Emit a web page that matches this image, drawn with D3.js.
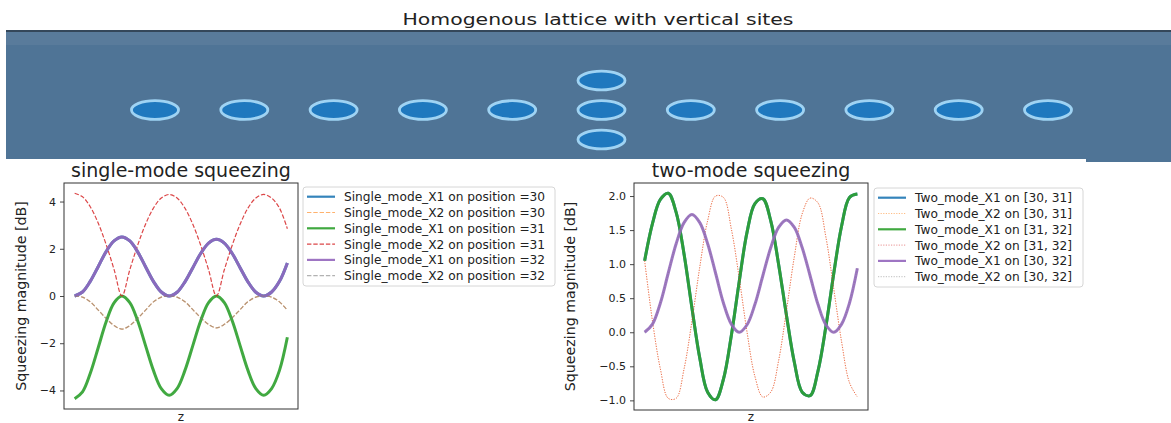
<!DOCTYPE html>
<html>
<head>
<meta charset="utf-8">
<script src="https://cdn.jsdelivr.net/npm/d3@7"></script>
<style>
  body { margin: 0; background: #fff; }
  svg text { font-family: "DejaVu Sans", sans-serif; fill: #222; }
</style>
</head>
<body>
<div id="chart"></div>
<script>
// ---- data ----
const mainTitle = "Homogenous lattice with vertical sites";
// lattice sites: horizontal chain + two vertical sites around the middle one
const chainSites = [0, 1, 2, 3, 4, 5, 6, 7, 8, 9, 10];
const verticalSites = [-1, 1];

// sample index along z (12 samples per oscillation, read by eye)
const zSamples = [0, 1, 2, 3, 4, 5, 6, 7, 8, 9, 10, 11, 12, 13,
                  14, 15, 16, 17, 18, 19, 20, 21, 22, 23, 24, 25, 26, 27];

// single-mode squeezing [dB]
const smX1pos31 = [-4.35, -4.06, -3.26, -2.18, -1.09, -0.29, 0, -0.28, -1.05, -2.1, -3.15, -3.92, -4.2, -3.92,
                   -3.15, -2.1, -1.05, -0.28, 0, -0.28, -1.05, -2.1, -3.15, -3.92, -4.2, -3.92, -3.15, -1.75];
const smX2pos31 = [4.35, 4.2, 3.77, 3.08, 2.18, 1.13, 0, 1.11, 2.15, 3.04, 3.72, 4.15, 4.3, 4.15,
                   3.72, 3.04, 2.15, 1.11, 0, 1.11, 2.15, 3.04, 3.72, 4.15, 4.3, 4.15, 3.72, 2.85];
const smX1pos32 = [0, 0.17, 0.63, 1.25, 1.88, 2.33, 2.5, 2.33, 1.87, 1.24, 0.62, 0.17, 0, 0.16,
                   0.6, 1.2, 1.8, 2.24, 2.4, 2.24, 1.8, 1.2, 0.6, 0.16, 0, 0.17, 0.62, 1.4];
const smX2pos32 = [0, -0.05, -0.25, -0.6, -0.95, -1.25, -1.4, -1.25, -0.95, -0.6, -0.25, -0.05, 0, -0.05,
                   -0.24, -0.58, -0.92, -1.2, -1.35, -1.2, -0.92, -0.58, -0.24, -0.05, 0, -0.05, -0.25, -0.6];
const smX1pos30 = smX1pos32;   // hidden under position 32
const smX2pos30 = smX2pos32;

// two-mode squeezing [dB]
const tmX1on3132 = [1.05, 1.6, 1.95, 2.04, 1.76, 1.15, 0.36, -0.38, -0.88, -0.99, -0.69, -0.05, 0.74, 1.47,
                    1.89, 1.96, 1.64, 1.0, 0.25, -0.44, -0.88, -0.93, -0.57, 0.08, 0.86, 1.56, 1.98, 2.03];
const tmX2on3031 = [1.05, 0.16, -0.54, -0.97, -0.97, -0.54, 0.16, 0.96, 1.64, 2.0, 1.98, 1.52, 0.8, 0.0,
                    -0.65, -0.95, -0.88, -0.42, 0.32, 1.11, 1.74, 1.97, 1.9, 1.4, 0.64, -0.14, -0.74, -0.95];
const tmX1on3032 = [0, 0.12, 0.43, 0.87, 1.3, 1.61, 1.73, 1.61, 1.3, 0.87, 0.43, 0.12, 0, 0.11,
                    0.41, 0.83, 1.24, 1.54, 1.65, 1.54, 1.24, 0.83, 0.41, 0.11, 0, 0.12, 0.43, 0.94];
const tmX1on3031 = tmX1on3132;  // hidden under [31, 32]
const tmX2on3132 = tmX2on3031;
const tmX2on3032 = tmX1on3032;

const singleLabels = ["Single_mode_X1 on position =30", "Single_mode_X2 on position =30",
                      "Single_mode_X1 on position =31", "Single_mode_X2 on position =31",
                      "Single_mode_X1 on position =32", "Single_mode_X2 on position =32"];
const twoLabels = ["Two_mode_X1 on [30, 31]", "Two_mode_X2 on [30, 31]",
                   "Two_mode_X1 on [31, 32]", "Two_mode_X2 on [31, 32]",
                   "Two_mode_X1 on [30, 32]", "Two_mode_X2 on [30, 32]"];
const seriesColors = ["#1f77b4", "#ff7f0e", "#2ca02c", "#d62728", "#9467bd", "#7f7f7f"];
const singleTicks = [-4, -2, 0, 2, 4];
const twoTicks = [-1.0, -0.5, 0.0, 0.5, 1.0, 1.5, 2.0];

const W = 1171, H = 423;
const svg = d3.select("#chart").append("svg")
    .attr("width", W).attr("height", H);

// ---- lattice picture ----
svg.append("text")
    .attr("x", 598).attr("y", 25)
    .attr("text-anchor", "middle")
    .attr("textLength", 391).attr("lengthAdjust", "spacingAndGlyphs")
    .style("font-size", "15px")
    .text(mainTitle);

svg.append("rect").attr("x", 6).attr("y", 30).attr("width", W - 6).attr("height", 129)
    .attr("fill", "#4f7496");
svg.append("rect").attr("x", 1086).attr("y", 158).attr("width", W - 1086).attr("height", 4)
    .attr("fill", "#4f7496");
svg.append("rect").attr("x", 6).attr("y", 32).attr("width", W - 6).attr("height", 13)
    .attr("fill", "#5b7d9c").attr("opacity", 0.8);
svg.append("rect").attr("x", 6).attr("y", 30).attr("width", W - 6).attr("height", 2)
    .attr("fill", "#34475a");

const siteX = d3.scaleLinear().domain([0, 10]).range([155, 1048]);
const siteY = d3.scaleLinear().domain([-1, 1]).range([139.5, 80.5]);
const sites = chainSites.map((i) => ({x: i, y: 0}))
    .concat(verticalSites.map((v) => ({x: 5, y: v})));
svg.append("g").selectAll("ellipse")
    .data(sites)
    .enter().append("ellipse")
        .attr("cx", (d) => siteX(d.x))
        .attr("cy", (d) => siteY(d.y))
        .attr("rx", 23.5).attr("ry", 9.3)
        .attr("fill", "#1f78be")
        .attr("stroke", "#9fd3f3")
        .attr("stroke-width", 2.8);

// ---- squeezing panels ----
function drawPanel(cfg) {
    const g = svg.append("g");
    const x = d3.scaleLinear()
        .domain([zSamples[0] - 1.35, zSamples[zSamples.length - 1] + 1.35])
        .range([cfg.left, cfg.right]);
    const all = cfg.series.flatMap((s) => s.values);
    const ext = d3.extent(all);
    const pad = (ext[1] - ext[0]) * 0.05;
    const y = d3.scaleLinear().domain([ext[0] - pad, ext[1] + pad]).range([cfg.bottom, cfg.top]);

    const line = d3.line()
        .x((d, i) => x(zSamples[i]))
        .y((d) => y(d))
        .curve(d3.curveCatmullRom.alpha(0.5));

    const clip = "clip-" + cfg.id;
    svg.append("clipPath").attr("id", clip)
        .append("rect").attr("x", cfg.left).attr("y", cfg.top)
        .attr("width", cfg.right - cfg.left).attr("height", cfg.bottom - cfg.top);

    g.append("g").attr("clip-path", `url(#${clip})`)
        .selectAll("path")
        .data(cfg.series)
        .enter().append("path")
            .attr("d", (s) => line(s.values))
            .attr("fill", "none")
            .attr("stroke", (s) => s.color)
            .attr("stroke-width", (s) => s.width)
            .attr("stroke-dasharray", (s) => s.dash)
            .attr("opacity", (s) => s.opacity);

    // y axis
    const yAxis = d3.axisLeft(y).tickValues(cfg.ticks).tickSize(4).tickPadding(4)
        .tickFormat(cfg.fmt);
    const ya = g.append("g").attr("transform", `translate(${cfg.left},0)`).call(yAxis);
    ya.select(".domain").remove();
    ya.selectAll("line").attr("stroke", "#333").attr("stroke-width", 0.9);
    ya.selectAll("text").style("font-size", "11px").attr("fill", "#222");

    // frame
    g.append("rect")
        .attr("x", cfg.left).attr("y", cfg.top)
        .attr("width", cfg.right - cfg.left).attr("height", cfg.bottom - cfg.top)
        .attr("fill", "none").attr("stroke", "#333").attr("stroke-width", 1);

    g.append("text")
        .attr("x", (cfg.left + cfg.right) / 2).attr("y", cfg.top - 6)
        .attr("text-anchor", "middle")
        .style("font-size", "19px")
        .text(cfg.title);

    g.append("text")
        .attr("transform", `translate(${cfg.ylabelX},${(cfg.top + cfg.bottom) / 2}) rotate(-90)`)
        .attr("text-anchor", "middle")
        .style("font-size", "14.2px")
        .text("Squeezing magnitude [dB]");

    g.append("text")
        .attr("x", (cfg.left + cfg.right) / 2).attr("y", 421)
        .attr("text-anchor", "middle")
        .style("font-size", "12px")
        .text("z");

    // legend
    const lg = svg.append("g").attr("transform", `translate(${cfg.legX},${cfg.legY})`);
    lg.append("rect")
        .attr("width", cfg.legW).attr("height", 99)
        .attr("rx", 3).attr("fill", "#fff").attr("stroke", "#d6d6d6");
    const rows = lg.selectAll("g.row")
        .data(cfg.series)
        .enter().append("g").attr("class", "row")
        .attr("transform", (d, i) => `translate(0,${9.7 + i * 15.8})`);
    rows.append("line")
        .attr("x1", 4).attr("x2", 32)
        .attr("stroke", (s) => s.color)
        .attr("stroke-width", (s) => Math.min(s.width, 2.2))
        .attr("stroke-dasharray", (s) => s.dash)
        .attr("opacity", (s) => s.opacity);
    rows.append("text")
        .attr("x", 41).attr("dy", "0.36em")
        .style("font-size", "12.2px")
        .text((s) => s.label);
}

const singleValues = [smX1pos30, smX2pos30, smX1pos31, smX2pos31, smX1pos32, smX2pos32];
const twoValues = [tmX1on3031, tmX2on3031, tmX1on3132, tmX2on3132, tmX1on3032, tmX2on3032];

drawPanel({
    id: "single", title: "single-mode squeezing",
    left: 64, right: 298, top: 183, bottom: 409, ylabelX: 26,
    ticks: singleTicks, fmt: (d) => d3.format("d")(d).replace("-", "\u2212"),
    legX: 303, legY: 187, legW: 252,
    series: singleValues.map((v, i) => ({
        values: v, label: singleLabels[i], color: seriesColors[i],
        width: i % 2 === 0 ? 3 : 1.2,
        dash: i % 2 === 0 ? null : "4.4,1.9",
        opacity: i % 2 === 0 ? 0.9 : (i === 3 ? 0.85 : 0.6)
    }))
});

drawPanel({
    id: "two", title: "two-mode squeezing",
    left: 634, right: 868, top: 183, bottom: 410, ylabelX: 575,
    ticks: twoTicks, fmt: (d) => d3.format(".1f")(d).replace("-", "\u2212"),
    legX: 874, legY: 188, legW: 209,
    series: twoValues.map((v, i) => ({
        values: v, label: twoLabels[i], color: seriesColors[i],
        width: i % 2 === 0 ? 3 : 1,
        dash: i % 2 === 0 ? null : "1.2,1.4",
        opacity: i % 2 === 0 ? 0.9 : 0.5
    }))
});
</script>
</body>
</html>
